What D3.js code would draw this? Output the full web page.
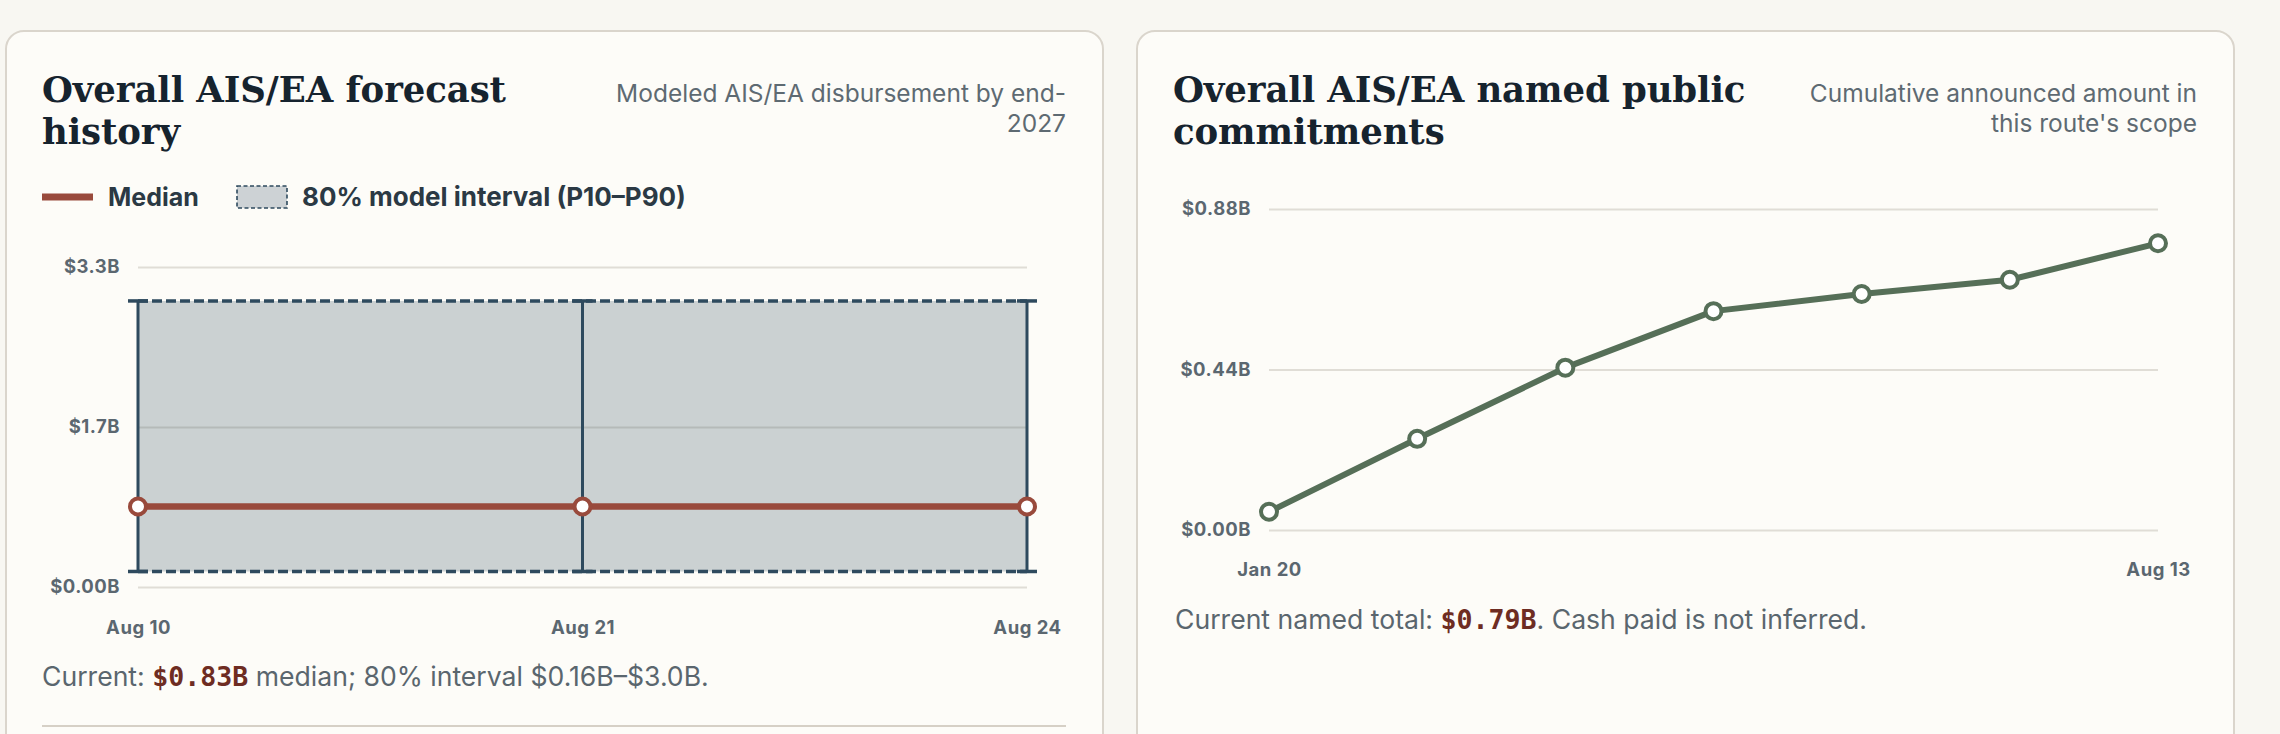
<!DOCTYPE html>
<html>
<head>
<meta charset="utf-8">
<script src="https://cdn.jsdelivr.net/npm/d3@7"></script>
<style>
  body { margin: 0; background: #f8f7f2; }
  svg { display: block; }
</style>
</head>
<body>
<div id="chart"></div>
<script>
// forecast history (left card)
var forecastDates = ["Aug 10", "Aug 21", "Aug 24"];
var forecastMedian = [0.83, 0.83, 0.83];
var forecastP10 = [0.16, 0.16, 0.16];
var forecastP90 = [2.95, 2.95, 2.95];
var forecastTicks = [0, 1.65, 3.3];
var forecastTickLabels = ["$0.00B", "$1.7B", "$3.3B"];

// named public commitments (right card)
var commitLabels = ["Jan 20", "", "", "", "", "", "Aug 13"];
var commitValues = [0.05, 0.25, 0.445, 0.60, 0.647, 0.686, 0.786];
var commitTicks = [0, 0.44, 0.88];
var commitTickLabels = ["$0.00B", "$0.44B", "$0.88B"];

var W = 2280, H = 734;
var serif = "'DejaVu Serif', 'Liberation Serif', serif";
var sans = "Inter, 'Noto Sans', sans-serif";
var mono = "'DejaVu Sans Mono', 'Liberation Mono', monospace";

var svg = d3.select("#chart").append("svg")
    .attr("width", W)
    .attr("height", H);

// draws the card frame with title + subtitle
function drawCard(x0, x1, titleLines, subLines) {
    var g = svg.append("g");
    g.append("rect")
        .attr("x", x0).attr("y", 31)
        .attr("width", x1 - x0).attr("height", 800)
        .attr("rx", 18)
        .attr("fill", "#fdfcf8")
        .attr("stroke", "#dad5cc")
        .attr("stroke-width", 2);

    g.append("text")
        .attr("x", x0 + 36).attr("y", 102)
        .attr("fill", "#16232e")
        .style("font", "700 35.5px " + serif)
        .attr("letter-spacing", -0.1)
        .selectAll("tspan").data(titleLines).join("tspan")
        .attr("x", x0 + 36)
        .attr("dy", (d, i) => i ? 42 : 0)
        .text(d => d);

    g.append("text")
        .attr("x", x1 - 37).attr("y", 102)
        .attr("text-anchor", "end")
        .attr("fill", "#5e6a72")
        .style("font", "400 24.5px " + sans)
        .selectAll("tspan").data(subLines).join("tspan")
        .attr("x", x1 - 37)
        .attr("dy", (d, i) => i ? 30 : 0)
        .text(d => d);
    return g;
}

function styleY(g, y, ticks, labels, width) {
    g.call(d3.axisLeft(y)
        .tickValues(ticks)
        .tickFormat((d, i) => labels[i])
        .tickSizeInner(-width)
        .tickSizeOuter(0)
        .tickPadding(18));
    g.select(".domain").remove();
    g.selectAll(".tick line").attr("stroke", "#e0ddd6").attr("stroke-width", 2);
    g.selectAll(".tick text")
        .attr("fill", "#5b6770")
        .style("font", "700 18.5px " + sans)
        .attr("letter-spacing", 0.5);
}

function styleX(g) {
    g.select(".domain").remove();
    g.selectAll(".tick text")
        .attr("fill", "#5b6770")
        .style("font", "700 18.5px " + sans)
        .attr("letter-spacing", 0.5);
}

function footer(g, x, y, before, value, after) {
    var t = g.append("text")
        .attr("x", x).attr("y", y)
        .attr("fill", "#5a666e")
        .style("font", "400 26.6px " + sans);
    t.append("tspan").text(before);
    t.append("tspan")
        .style("font", "700 26.6px " + mono)
        .attr("fill", "#6e2c22")
        .text(value);
    t.append("tspan").text(after);
}

var fmtB = v => "$" + d3.format(".2f")(v) + "B";
var fmtB1 = v => "$" + d3.format(".1f")(v) + "B";

// ---------- left card ----------
var left = drawCard(6, 1103, ["Overall AIS/EA forecast", "history"],
    ["Modeled AIS/EA disbursement by end-", "2027"]);

// legend
var lg = left.append("g");
lg.append("line")
    .attr("x1", 42).attr("x2", 93).attr("y1", 197).attr("y2", 197)
    .attr("stroke", "#994a3c").attr("stroke-width", 7);
lg.append("text")
    .attr("x", 108).attr("y", 206)
    .attr("fill", "#2b3944")
    .style("font", "700 25px " + sans)
    .text("Median");
lg.append("rect")
    .attr("x", 237).attr("y", 186).attr("width", 50).attr("height", 22)
    .attr("fill", "#cdd2d5")
    .attr("stroke", "#2e4a5e").attr("stroke-width", 1.6)
    .attr("stroke-dasharray", "4,2.5");
lg.append("text")
    .attr("x", 302).attr("y", 206)
    .attr("fill", "#2b3944")
    .style("font", "700 26px " + sans)
    .text("80% model interval (P10\u2013P90)");

var fx = d3.scalePoint().domain(forecastDates).range([138, 1027]);
var fy = d3.scaleLinear().domain([0, 3.3]).range([587, 267]);

left.append("g").call(styleY, fy, forecastTicks, forecastTickLabels, 1027 - 138)
    .attr("transform", "translate(138,0)");

left.append("g")
    .attr("transform", "translate(0,587)")
    .call(d3.axisBottom(fx).tickSize(0).tickPadding(34))
    .call(styleX);

var band = forecastDates.map((d, i) => ({ d: d, lo: forecastP10[i], hi: forecastP90[i], m: forecastMedian[i] }));

left.append("path")
    .datum(band)
    .attr("fill", "#2e4a5e")
    .attr("fill-opacity", 0.24)
    .attr("d", d3.area().x(p => fx(p.d)).y0(p => fy(p.lo)).y1(p => fy(p.hi)));

["lo", "hi"].forEach(function (k) {
    left.append("path")
        .datum(band)
        .attr("fill", "none")
        .attr("stroke", "#2e4a5e")
        .attr("stroke-width", 3.5)
        .attr("stroke-dasharray", "10,4")
        .attr("d", d3.line().x(p => fx(p.d)).y(p => fy(p[k])));
});

var whisk = left.append("g").attr("stroke", "#2e4a5e");
whisk.selectAll(".v").data(band).join("line")
    .attr("x1", p => fx(p.d)).attr("x2", p => fx(p.d))
    .attr("y1", p => fy(p.lo)).attr("y2", p => fy(p.hi))
    .attr("stroke-width", 3);
whisk.selectAll(".cap").data(band.flatMap(p => [[p.d, p.lo], [p.d, p.hi]])).join("line")
    .attr("x1", c => fx(c[0]) - 10).attr("x2", c => fx(c[0]) + 10)
    .attr("y1", c => fy(c[1])).attr("y2", c => fy(c[1]))
    .attr("stroke-width", 3.5);

left.append("path")
    .datum(band)
    .attr("fill", "none")
    .attr("stroke", "#994a3c")
    .attr("stroke-width", 6.5)
    .attr("d", d3.line().x(p => fx(p.d)).y(p => fy(p.m)));

left.selectAll(".mdot").data(band).join("circle")
    .attr("cx", p => fx(p.d)).attr("cy", p => fy(p.m))
    .attr("r", 8)
    .attr("fill", "#ffffff")
    .attr("stroke", "#994a3c")
    .attr("stroke-width", 4);

var lastF = band[band.length - 1];
footer(left, 42, 686, "Current: ", fmtB(lastF.m),
    " median; 80% interval " + fmtB(lastF.lo) + "\u2013" + fmtB1(lastF.hi) + ".");

left.append("line")
    .attr("x1", 42).attr("x2", 1066).attr("y1", 726).attr("y2", 726)
    .attr("stroke", "#d6d0c6").attr("stroke-width", 2);

// ---------- right card ----------
var right = drawCard(1137, 2234, ["Overall AIS/EA named public", "commitments"],
    ["Cumulative announced amount in", "this route's scope"]);

var cx = d3.scalePoint().domain(d3.range(commitValues.length)).range([1269, 2158]);
var cy = d3.scaleLinear().domain([0, 0.88]).range([530, 209]);

right.append("g").call(styleY, cy, commitTicks, commitTickLabels, 2158 - 1269)
    .attr("transform", "translate(1269,0)");

right.append("g")
    .attr("transform", "translate(0,530)")
    .call(d3.axisBottom(cx)
        .tickValues(commitLabels.map((l, i) => i).filter(i => commitLabels[i]))
        .tickFormat(i => commitLabels[i])
        .tickSize(0).tickPadding(33))
    .call(styleX);

right.append("path")
    .datum(commitValues)
    .attr("fill", "none")
    .attr("stroke", "#566f58")
    .attr("stroke-width", 6)
    .attr("stroke-linejoin", "round")
    .attr("d", d3.line().x((v, i) => cx(i)).y(v => cy(v)));

right.selectAll(".cdot").data(commitValues).join("circle")
    .attr("cx", (v, i) => cx(i)).attr("cy", v => cy(v))
    .attr("r", 8)
    .attr("fill", "#ffffff")
    .attr("stroke", "#566f58")
    .attr("stroke-width", 4);

footer(right, 1175, 629, "Current named total: ", fmtB(commitValues[commitValues.length - 1]),
    ". Cash paid is not inferred.");
</script>
</body>
</html>
